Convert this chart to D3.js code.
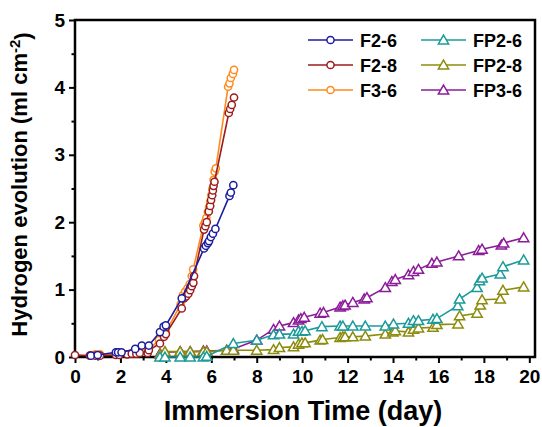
<!DOCTYPE html>
<html>
<head>
<meta charset="utf-8">
<script src="https://cdn.jsdelivr.net/npm/d3@7"></script>
<style>
  body { margin: 0; background: #fff; }
  text { font-family: "Liberation Sans", Arial, sans-serif; font-weight: bold; }
</style>
</head>
<body>
<div id="chart"></div>
<script>
// data: [day, ml cm-2]
const f26 = [[0.7,0.02],[1.0,0.03],[1.8,0.07],[1.9,0.07],[2.05,0.07],[2.65,0.12],[2.94,0.17],[3.25,0.17],
  [3.74,0.37],[3.9,0.45],[4.0,0.47],[4.7,0.87],[5.68,1.61],[5.76,1.65],[5.85,1.69],[5.9,1.72],[5.98,1.78],
  [6.07,1.83],[6.18,1.9],[6.8,2.39],[6.86,2.44],[6.97,2.55]];
const f28 = [[0,0.03],[0.65,0.02],[0.9,0.02],[1.1,0.02],[1.8,0.03],[1.95,0.03],[2.3,0.04],[2.5,0.05],[2.7,0.05],
  [2.85,0.06],[3.2,0.06],[3.25,0.1],[3.74,0.2],[3.92,0.3],[4.0,0.34],[4.7,0.72],[4.8,0.87],[4.89,0.9],[4.99,0.94],
  [5.07,0.99],[5.14,1.05],[5.21,1.1],[5.24,1.2],[5.68,1.89],[5.74,1.94],[5.8,2.0],[5.89,2.16],[5.95,2.24],
  [5.99,2.33],[6.04,2.4],[6.07,2.47],[6.1,2.54],[6.14,2.6],[6.77,3.62],[6.83,3.68],[6.9,3.74],[7.0,3.85]];
const f36 = [[0.7,0.03],[0.9,0.04],[1.1,0.04],[1.8,0.05],[1.95,0.05],[2.6,0.06],[2.8,0.06],[3.2,0.1],[3.7,0.25],
  [3.9,0.33],[4.0,0.37],[4.65,0.78],[4.75,0.92],[4.85,0.97],[4.95,1.02],[5.05,1.08],[5.14,1.2],[5.2,1.3],
  [5.65,1.95],[5.72,2.0],[5.78,2.06],[5.85,2.15],[5.9,2.22],[5.95,2.3],[6.0,2.4],[6.05,2.5],[6.1,2.63],
  [6.15,2.75],[6.2,2.8],[6.74,4.01],[6.8,4.06],[6.86,4.14],[6.95,4.2],[7.0,4.26]];
const fp26 = [[3.74,0.0],[3.96,0.0],[4.63,0.0],[5.07,0.0],[5.65,0.0],[5.8,0.01],[6.97,0.2],[8.0,0.25],
  [8.74,0.33],[9.0,0.34],[9.62,0.34],[9.84,0.38],[9.99,0.38],[10.13,0.39],[10.87,0.45],[11.67,0.46],[11.79,0.46],
  [12.23,0.46],[12.78,0.46],[13.66,0.46],[14.02,0.49],[14.68,0.5],[14.9,0.54],[15.12,0.54],[15.76,0.56],
  [15.93,0.57],[16.85,0.76],[16.93,0.86],[17.7,1.03],[17.81,1.13],[17.92,1.17],[18.72,1.23],[18.84,1.34],[19.75,1.44]];
const fp28 = [[3.74,0.04],[3.96,0.08],[4.63,0.08],[5.07,0.08],[5.65,0.08],[5.8,0.08],[6.68,0.1],[6.97,0.1],
  [8.0,0.1],[8.74,0.11],[9.0,0.14],[9.62,0.15],[9.84,0.19],[9.99,0.21],[10.13,0.21],[10.79,0.25],[10.9,0.26],
  [11.67,0.29],[11.79,0.3],[11.89,0.3],[12.23,0.3],[12.78,0.31],[13.66,0.34],[13.99,0.37],[14.1,0.39],[14.68,0.37],
  [14.9,0.41],[15.12,0.43],[15.76,0.44],[15.93,0.48],[16.86,0.49],[16.93,0.61],[17.7,0.65],[17.84,0.77],
  [17.92,0.85],[18.72,0.86],[18.84,0.99],[19.75,1.04]];
const fp36 = [[3.74,0.05],[3.96,0.07],[4.63,0.08],[5.07,0.08],[5.65,0.09],[5.8,0.09],[6.68,0.1],[6.97,0.12],
  [8.0,0.25],[8.74,0.41],[9.0,0.46],[9.62,0.51],[9.84,0.55],[9.94,0.57],[10.09,0.59],[10.79,0.65],[10.94,0.66],
  [11.67,0.74],[11.79,0.76],[11.89,0.77],[12.23,0.81],[12.73,0.86],[12.85,0.88],[13.66,1.03],[13.95,1.12],
  [14.1,1.15],[14.68,1.22],[14.9,1.27],[15.12,1.3],[15.71,1.39],[15.93,1.41],[16.89,1.5],[17.77,1.58],
  [17.92,1.6],[18.77,1.66],[18.87,1.69],[19.75,1.77]];

const seriesNames = ["F2-6", "F2-8", "F3-6", "FP2-6", "FP2-8", "FP3-6"];
const seriesData = [f26, f28, f36, fp26, fp28, fp36];
const seriesColors = ["#1c1ca0", "#9a1c1c", "#ff8a1c", "#1c9a9a", "#8c8c0c", "#8c1c9a"];
const seriesMarkers = ["circle", "circle", "circle", "triangle", "triangle", "triangle"];
const xTicks = [0, 2, 4, 6, 8, 10, 12, 14, 16, 18, 20];
const yTicks = [0, 1, 2, 3, 4, 5];

const W = 542, H = 427;
const margin = { top: 20, right: 7, bottom: 70, left: 75 };

const svg = d3.select("#chart").append("svg")
    .attr("width", W)
    .attr("height", H);

const x = d3.scaleLinear().domain([0, 20.25]).range([margin.left, W - margin.right]);
const y = d3.scaleLinear().domain([0, 5]).range([H - margin.bottom, margin.top]);

// axes
const xAxis = svg.append("g")
    .attr("transform", `translate(0,${y(0)})`)
    .call(d3.axisBottom(x).tickValues(xTicks).tickSize(6).tickPadding(4).tickFormat(d3.format("d")));
const xMinor = svg.append("g")
    .attr("transform", `translate(0,${y(0)})`)
    .call(d3.axisBottom(x).tickValues(d3.range(1, 20, 2)).tickSize(3.5).tickFormat(""));
const yAxis = svg.append("g")
    .attr("transform", `translate(${x(0)},0)`)
    .call(d3.axisLeft(y).tickValues(yTicks).tickSize(6).tickPadding(4).tickFormat(d3.format("d")));
const yMinor = svg.append("g")
    .attr("transform", `translate(${x(0)},0)`)
    .call(d3.axisLeft(y).tickValues(d3.range(0.5, 5, 1)).tickSize(3.5).tickFormat(""));

[xAxis, xMinor, yAxis, yMinor].forEach(g => {
    g.select(".domain").remove();
    g.selectAll("line").attr("stroke", "#000").attr("stroke-width", 2);
    g.selectAll("text").attr("fill", "#000").style("font-size", "19px");
});
xAxis.selectAll("text").attr("dy", "0.85em");

// frame
svg.append("rect")
    .attr("x", x(0)).attr("y", y(5))
    .attr("width", x(20.25) - x(0)).attr("height", y(0) - y(5))
    .attr("fill", "none").attr("stroke", "#000").attr("stroke-width", 2.5);

// axis titles
svg.append("text")
    .attr("x", (x(0) + x(20.25)) / 2 - 2)
    .attr("y", 420)
    .attr("text-anchor", "middle")
    .style("font-size", "27px")
    .text("Immersion Time (day)");

const yTitle = svg.append("text")
    .attr("transform", `translate(27,${(y(0) + y(5)) / 2 - 4}) rotate(-90)`)
    .attr("text-anchor", "middle")
    .style("font-size", "22px");
yTitle.append("tspan").text("Hydrogen evolution (ml cm");
yTitle.append("tspan").attr("dy", "-0.45em").style("font-size", "15px").text("-2");
yTitle.append("tspan").attr("dy", "0.45em").text(")");

const line = d3.line().x(d => x(d[0])).y(d => y(d[1]));
const tri = d3.symbol().type(d3.symbolTriangle).size(46);

function drawMarker(g, kind, color, cx, cy) {
    if (kind === "circle") {
        g.append("circle").attr("cx", cx).attr("cy", cy).attr("r", 3.6)
            .attr("fill", "#fff").attr("stroke", color).attr("stroke-width", 1.5);
    } else {
        g.append("path").attr("d", tri).attr("transform", `translate(${cx},${cy + 1})`)
            .attr("fill", "#fff").attr("stroke", color).attr("stroke-width", 1.5);
    }
}

// series, drawn in reverse so F2-6 ends on top
const order = [5, 4, 3, 2, 1, 0];
order.forEach(i => {
    const g = svg.append("g");
    g.append("path")
        .datum(seriesData[i])
        .attr("d", line)
        .attr("fill", "none")
        .attr("stroke", seriesColors[i])
        .attr("stroke-width", 1.6);
    seriesData[i].forEach(d => drawMarker(g, seriesMarkers[i], seriesColors[i], x(d[0]), y(d[1])));
});

// legend
const legend = svg.append("g");
seriesNames.forEach((name, i) => {
    const col = Math.floor(i / 3), row = i % 3;
    const lx = 308 + col * 113, ly = 40 + row * 25;
    legend.append("line")
        .attr("x1", lx).attr("x2", lx + 45).attr("y1", ly).attr("y2", ly)
        .attr("stroke", seriesColors[i]).attr("stroke-width", 1.6);
    drawMarker(legend, seriesMarkers[i], seriesColors[i], lx + 22.5, ly);
    legend.append("text")
        .attr("x", lx + 52).attr("y", ly + 6.5)
        .style("font-size", "18px")
        .text(name);
});
</script>
</body>
</html>
